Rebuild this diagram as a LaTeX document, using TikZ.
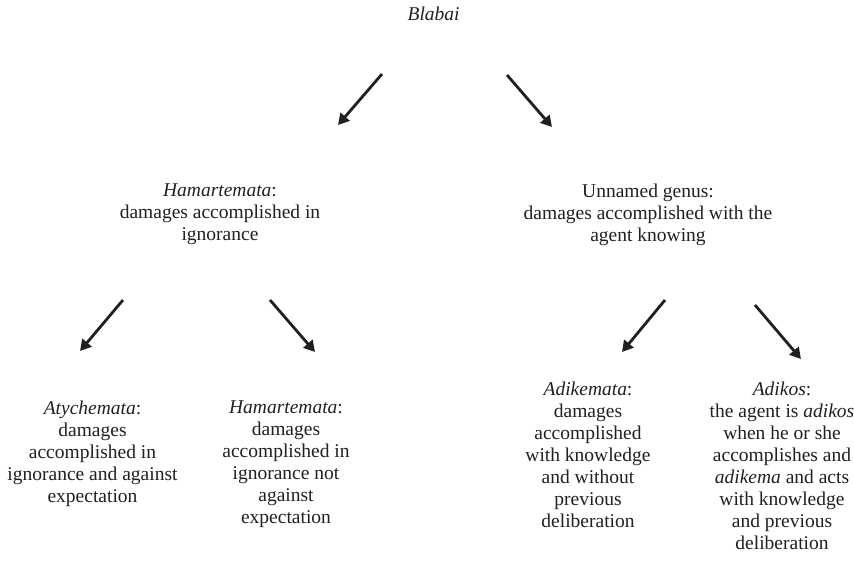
\documentclass[tikz,border=0pt]{standalone}
\usepackage{fontspec}
\setmainfont{Liberation Serif}
\usepackage{xcolor}
\usetikzlibrary{arrows.meta}
\definecolor{ink}{HTML}{231F20}

\begin{document}
\begin{tikzpicture}[x=1pt,y=-1pt,
	every node/.style={inner sep=0pt, align=center, anchor=north, text=ink, font=\fontsize{19.5}{22}\selectfont},
	freccia/.style={line width=2.8pt, draw=ink, -{Triangle[length=11pt,width=12pt]}}]
	\useasboundingbox (0,0) rectangle (854,573);
	
	%ROOT
	\node (blabai) at (433.6,7) {\textit{Blabai}};
	
	%GENERA
	\node (hamart) at (220,184) {\textit{Hamartemata}:\\damages accomplished in\\ignorance};
	\node (genus) at (648,184) {Unnamed genus:\\damages accomplished with the\\agent knowing};
	
	%SPECIES
	\node (atych) at (92.5,400.5) {\textit{Atychemata}:\\damages\\accomplished in\\ignorance and against\\expectation};
	\node (hamartb) at (286,400.5) {\textit{Hamartemata}:\\damages\\accomplished in\\ignorance not\\against\\expectation};
	\node (adikem) at (588,381.5) {\textit{Adikemata}:\\damages\\accomplished\\with knowledge\\and without\\previous\\deliberation};
	\node (adikos) at (782,381.5) {\textit{Adikos}:\\the agent is \textit{adikos}\\when he or she\\accomplishes and\\\textit{adikema} and acts\\with knowledge\\and previous\\deliberation};
	
	%frecce
	\coordinate (a1) at (382,74);  \coordinate (b1) at (338,125);
	\coordinate (a2) at (507,75);  \coordinate (b2) at (552,127);
	\coordinate (a3) at (123,300); \coordinate (b3) at (80,351);
	\coordinate (a4) at (270,300); \coordinate (b4) at (315,352);
	\coordinate (a5) at (665,300); \coordinate (b5) at (622,352);
	\coordinate (a6) at (755,305); \coordinate (b6) at (801,359);
	\draw [freccia] (a1) -- (b1);
	\draw [freccia] (a2) -- (b2);
	\draw [freccia] (a3) -- (b3);
	\draw [freccia] (a4) -- (b4);
	\draw [freccia] (a5) -- (b5);
	\draw [freccia] (a6) -- (b6);
	
\end{tikzpicture}
\end{document}
